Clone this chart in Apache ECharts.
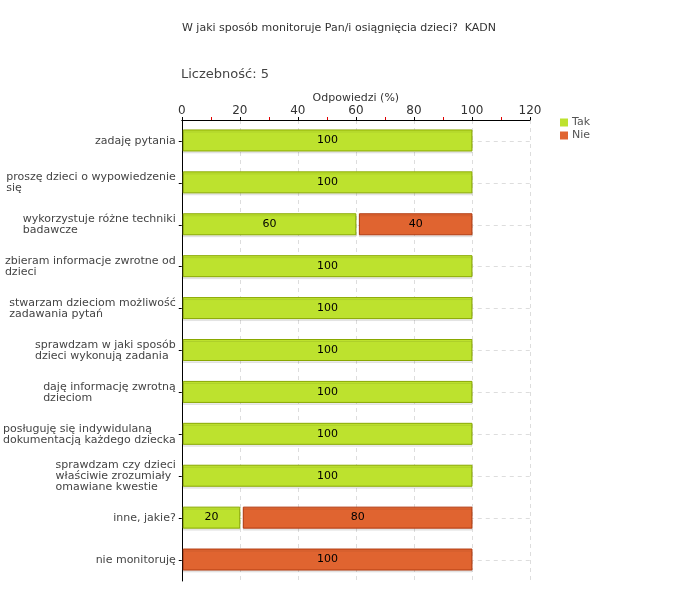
<!DOCTYPE html>
<html><head><meta charset="utf-8">
<script src="https://cdn.jsdelivr.net/npm/echarts@6/dist/echarts.min.js"></script>
<style>html,body{margin:0;padding:0;background:#fff}#c{width:680px;height:600px}</style>
</head><body><div id="c"></div>
<script>
const categories = [
  "zadaję pytania",
  "proszę dzieci o wypowiedzenie\nsię",
  "wykorzystuje różne techniki\nbadawcze",
  "zbieram informacje zwrotne od\ndzieci",
  "stwarzam dzieciom możliwość\nzadawania pytań",
  "sprawdzam w jaki sposób\ndzieci wykonują zadania",
  "daję informację zwrotną\ndzieciom",
  "posługuję się indywidulaną\ndokumentacją każdego dziecka",
  "sprawdzam czy dzieci\nwłaściwie zrozumiały\nomawiane kwestie",
  "inne, jakie?",
  "nie monitoruję"
];
const takValues = [100, 100, 60, 100, 100, 100, 100, 100, 100, 20, 0];
const nieValues = [0, 0, 40, 0, 0, 0, 0, 0, 0, 80, 100];
const seriesNames = ["Tak", "Nie"];
const xTicks = [0, 20, 40, 60, 80, 100, 120];
const titleText = "W jaki sposób monitoruje Pan/i osiągnięcia dzieci?  KADN";
const subText = "Liczebność: 5";
const xAxisName = "Odpowiedzi (%)";

const FONT = "DejaVu Sans";
const chart = echarts.init(document.getElementById('c'), null, {renderer: 'canvas'});

// stacked segments: [start, end, categoryIndex, value]
function segments(values, base) {
  return values.map((v, i) => [base[i], base[i] + v, i, v]);
}
const zeros = takValues.map(() => 0);

function renderSeg(fill, stroke) {
  return function (params, api) {
    const v = api.value(3);
    if (!v) return null;
    const s = api.value(0), e = api.value(1), idx = api.value(2);
    const p0 = api.coord([s, idx]);
    const p1 = api.coord([e, idx]);
    const h = 21;
    const inset = s === 0 ? 1.5 : 3.5;
    const x0 = p0[0] + inset;
    return {
      type: 'rect',
      shape: {x: x0, y: p0[1] - h / 2 - 0.5, width: p1[0] - x0, height: h},
      style: {fill: fill, stroke: stroke, lineWidth: 1,
        shadowColor: 'rgba(0,0,0,0.08)', shadowOffsetY: 2, shadowBlur: 0},
      textContent: {style: {text: String(v), fill: '#000', font: '11px "' + FONT + '"'}},
      textConfig: {position: 'inside'}
    };
  };
}

function segSeries(name, data, fill, stroke) {
  return {
    name: name, type: 'custom', data: data,
    encode: {x: [0, 1], y: 2},
    itemStyle: {color: fill},
    renderItem: renderSeg(fill, stroke),
    emphasis: {disabled: true}
  };
}

chart.setOption({
  animation: false,
  backgroundColor: '#fff',
  title: [
    {text: titleText, left: 182, top: 23, padding: 0, textStyle: {fontFamily: FONT, fontSize: 11, fontWeight: 'normal', color: '#333'}},
    {text: subText, left: 181, top: 68, padding: 0, textStyle: {fontFamily: FONT, fontSize: 13, fontWeight: 'normal', color: '#444'}}
  ],
  legend: {
    orient: 'vertical', left: 560, top: 117, padding: 0, itemWidth: 8, itemHeight: 8, itemGap: 2,
    icon: 'rect',
    itemStyle: {borderWidth: 0},
    textStyle: {fontFamily: FONT, fontSize: 11, color: '#555', padding: [0, 0, 0, -1]},
    data: seriesNames
  },
  grid: {left: 180, right: 150, top: 120, bottom: 19, containLabel: false},
  xAxis: {
    type: 'value', position: 'top', min: xTicks[0], max: xTicks[xTicks.length - 1], interval: 20,
    name: xAxisName, nameLocation: 'middle', nameGap: 16, nameMoveOverlap: false,
    nameTextStyle: {fontFamily: FONT, fontSize: 11, color: '#333'},
    axisLine: {show: true, lineStyle: {color: '#000', width: 1}},
    axisTick: {show: true, length: 3, lineStyle: {color: '#000'}},
    minorTick: {show: true, splitNumber: 2, length: 3, lineStyle: {color: '#e00000'}},
    axisLabel: {fontFamily: FONT, fontSize: 12, color: '#333', margin: 3},
    splitLine: {show: true, lineStyle: {color: '#dddddd', type: [4, 4]}}
  },
  yAxis: {
    type: 'category', inverse: true, data: categories,
    axisLine: {show: true, lineStyle: {color: '#000', width: 1}},
    axisTick: {show: true, alignWithLabel: true, length: 3, lineStyle: {color: '#000'}},
    splitLine: {show: true, alignWithLabel: true, lineStyle: {color: '#dddddd', type: [4, 4]}},
    axisLabel: {
      margin: 6, fontFamily: FONT, fontSize: 11, color: '#444', lineHeight: 11,
      formatter: v => v.split('\n').map(s => '{a|' + s + '}').join('\n'),
      rich: {a: {align: 'left', fontFamily: FONT, fontSize: 11, color: '#444', lineHeight: 11}}
    }
  },
  series: [
    segSeries(seriesNames[0], segments(takValues, zeros), '#bde22e', '#89a800'),
    segSeries(seriesNames[1], segments(nieValues, takValues), '#e06430', '#b03a10')
  ]
});
</script>
</body></html>
